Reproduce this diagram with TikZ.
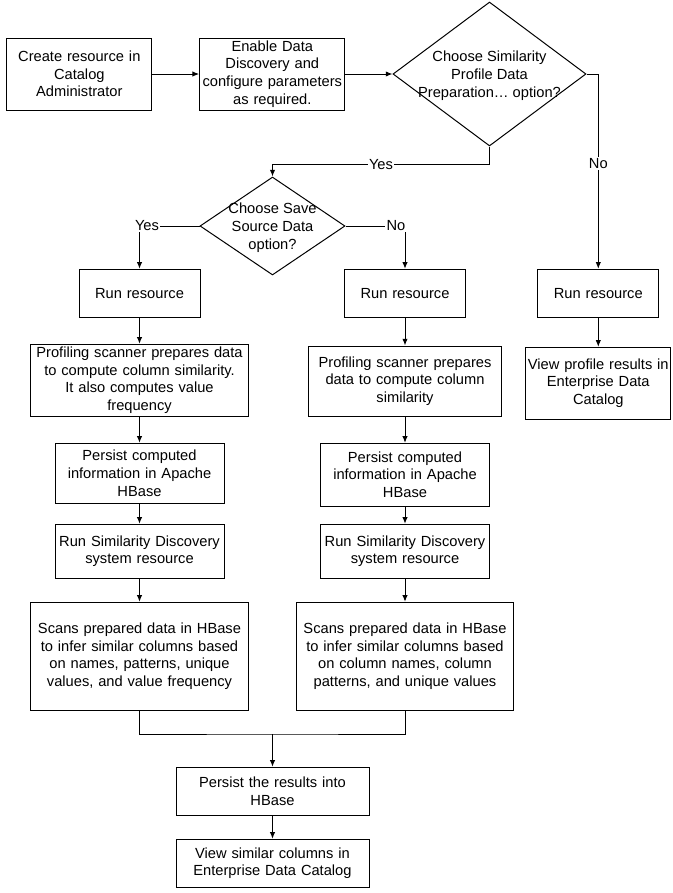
\documentclass[tikz,border=0pt]{standalone}
\usepackage{fontspec}
\setmainfont{Liberation Sans}
\usetikzlibrary{%
  arrows.meta,%
  shapes.geometric% wg. diamond
}
\newcommand{\dectext}[1]{\smash{\makebox[0pt]{\raisebox{-.37em}{\begin{tabular}{@{}c@{}}#1\end{tabular}}}}}

\begin{document}
\begin{tikzpicture}[
    x=0.75pt,y=-0.75pt,
    >={Latex[length=5pt,width=4pt]},line width=0.75pt,
    font=\fontsize{11pt}{13.3pt}\selectfont,
    process/.style={rectangle,draw,fill=white,align=center,inner sep=0pt},
    decision/.style={diamond,draw,fill=white,inner sep=0pt},
    answer/.style={fill=white,inner sep=1pt}
  ]
    \useasboundingbox (0,0) rectangle (672,893);

    \node (create)  [process,text width=109pt,minimum height=54pt] at (79.3,74)
        {Create resource in\\Catalog\\Administrator};
    \node (enable)  [process,text width=109pt,minimum height=54pt] at (272.3,74)
        {Enable Data\\Discovery and\\configure parameters\\as required.};
    \node (simdec)  [decision,minimum width=144.75pt,minimum height=108pt] at (489.5,74)
        {\dectext{Choose Similarity\\Profile Data\\Preparation… option?}};
    \node (savedec) [decision,minimum width=108.75pt,minimum height=73.5pt] at (272.5,226)
        {\dectext{Choose Save\\Source Data\\option?}};

    \node (run1)    [process,text width=90.75pt,minimum height=36pt] at (139.5,293.3) {Run resource};
    \node (run2)    [process,text width=90.75pt,minimum height=36pt] at (405,293.3) {Run resource};
    \node (run3)    [process,text width=90.75pt,minimum height=36pt] at (598.3,293.3) {Run resource};

    \node (prof1)   [process,text width=163.3pt,minimum height=53.8pt] at (139.5,380.2)
        {Profiling scanner prepares data\\to compute column similarity.\\It also computes value\\frequency};
    \node (prof2)   [process,text width=144.8pt,minimum height=52.5pt] at (405,381)
        {Profiling scanner prepares\\data to compute column\\similarity};
    \node (viewprof) [process,text width=108.5pt,minimum height=53.8pt] at (598.3,383.2)
        {View profile results in\\Enterprise Data\\Catalog};

    \node (pers1)   [process,text width=126.75pt,minimum height=45pt] at (139.5,473.3)
        {Persist computed\\information in Apache\\HBase};
    \node (pers2)   [process,text width=126.75pt,minimum height=47pt] at (405,474.7)
        {Persist computed\\information in Apache\\HBase};

    \node (runsim1) [process,text width=126.75pt,minimum height=40.5pt] at (139.5,551.3)
        {Run Similarity Discovery\\system resource};
    \node (runsim2) [process,text width=126.75pt,minimum height=40.5pt] at (405,551.3)
        {Run Similarity Discovery\\system resource};

    \node (scan1)   [process,text width=163.3pt,minimum height=80.8pt] at (139.5,656.2)
        {Scans prepared data in HBase\\to infer similar columns based\\on names, patterns, unique\\values, and value frequency};
    \node (scan2)   [process,text width=163pt,minimum height=80.8pt] at (405,656.2)
        {Scans prepared data in HBase\\to infer similar columns based\\on column names, column\\patterns, and unique values};

    \coordinate (join) at (272.5,734);
    \node (persres) [process,text width=144.75pt,minimum height=36pt] at (272.5,791.3)
        {Persist the results into\\HBase};
    \node (viewsim) [process,text width=144.75pt,minimum height=35.8pt] at (272.5,863.2)
        {View similar columns in\\Enterprise Data Catalog};

    \begin{scope}[->]
        \draw (create) -- (enable);
        \draw (enable) -- (simdec);
        \draw (simdec.south) -- ++(0,18) -| node[answer,pos=0.25] {Yes} (savedec.north);
        \draw (simdec.east) -| node[answer,pos=0.73] {No} (run3.north);
        \draw (savedec.west) -| node[answer,pos=0.5,xshift=5.6pt] {Yes} (run1.north);
        \draw (savedec.east) -| node[answer,pos=0.5,xshift=-6.75pt] {No} (run2.north);
        \draw (run1) -- (prof1);
        \draw (prof1) -- (pers1);
        \draw (pers1) -- (runsim1);
        \draw (runsim1) -- (scan1);
        \draw (run2) -- (prof2);
        \draw (prof2) -- (pers2);
        \draw (pers2) -- (runsim2);
        \draw (runsim2) -- (scan2);
        \draw (run3) -- (viewprof);
        \draw (join) -- (persres);
        \draw (persres) -- (viewsim);
    \end{scope}
    \draw (scan1.south) |- (join) -| (scan2.south);
\end{tikzpicture}
\end{document}
